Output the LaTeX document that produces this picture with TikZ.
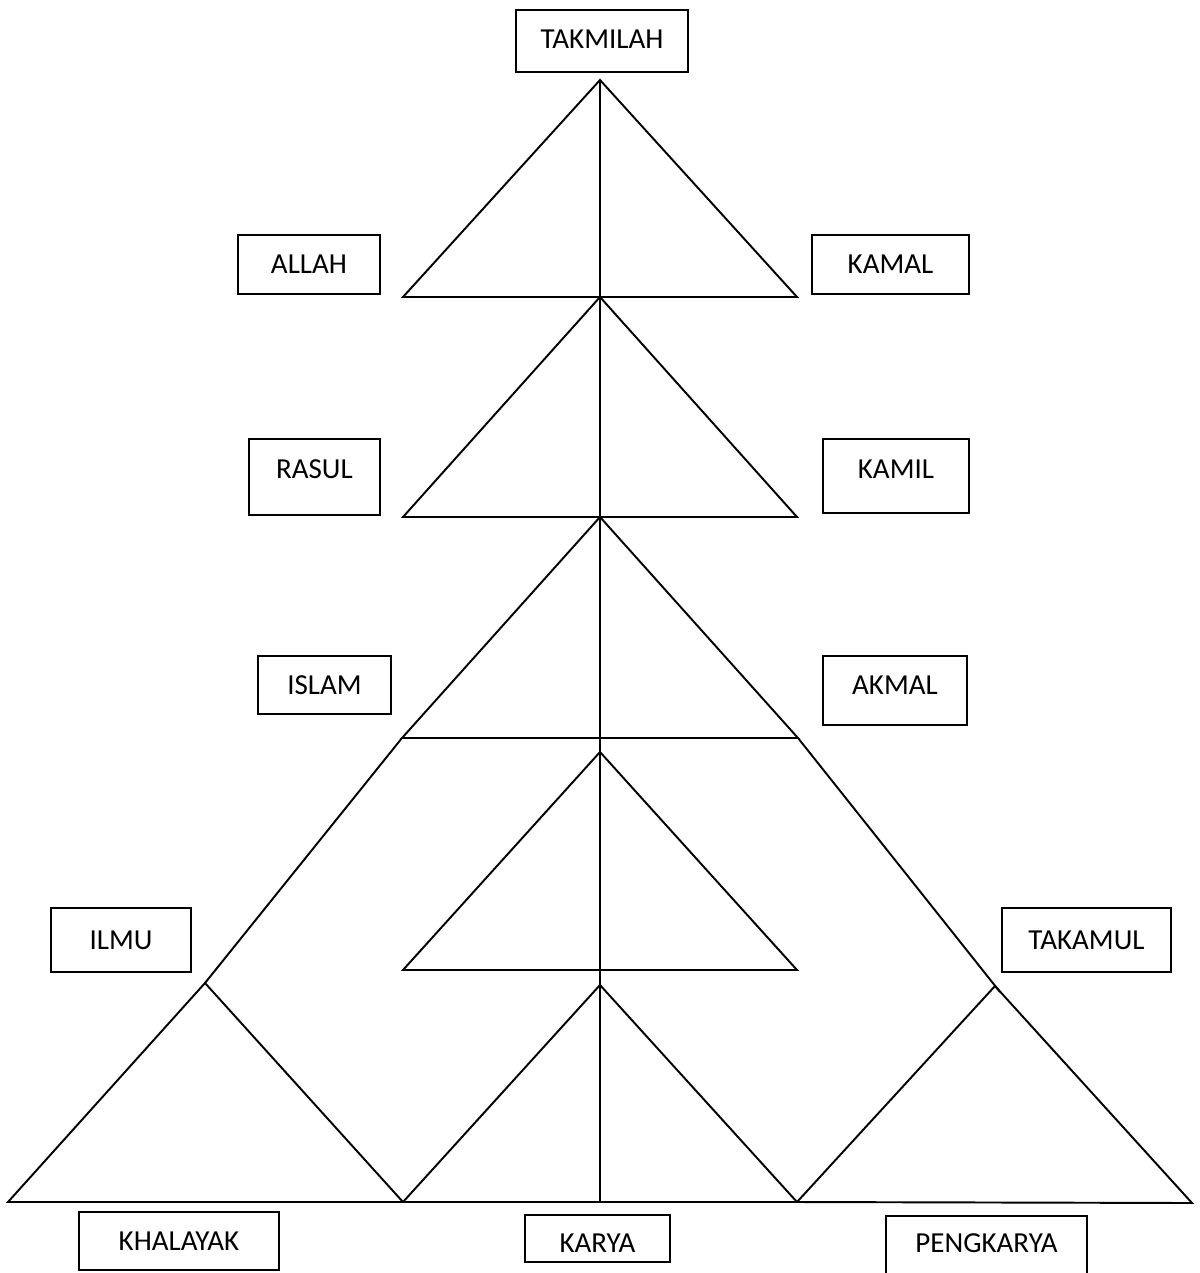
\documentclass[tikz,border=0pt]{standalone}
\usepackage{fontspec}
\setmainfont{Carlito}
\usetikzlibrary{positioning}

\begin{document}
\begin{tikzpicture}[x=0.2mm, y=-0.2mm, line width=1.1pt,
    box/.style={rectangle, draw, anchor=north west, inner xsep=0pt, inner ysep=0pt, font=\fontsize{16.5}{20}\selectfont}]

    \useasboundingbox (0,0) rectangle (1199,1273);
    \clip (0,0) rectangle (1199,1273);

    % labels
    \node[box, minimum width=34.4mm, text height=7.8mm, text depth=4.6mm] (takmilah) at (515,9) {TAKMILAH};
    \node[box, minimum width=28.4mm, text height=7.8mm, text depth=4mm] (allah) at (237,234) {ALLAH};
    \node[box, minimum width=31.4mm, text height=7.8mm, text depth=4mm] (kamal) at (811,234) {KAMAL};
    \node[box, minimum width=26.2mm, text height=8mm, text depth=7.2mm] (rasul) at (248,438) {RASUL};
    \node[box, minimum width=29.2mm, text height=8mm, text depth=6.8mm] (kamil) at (822,438) {KAMIL};
    \node[box, minimum width=26.6mm, text height=7.8mm, text depth=3.8mm] (islam) at (257,655) {ISLAM};
    \node[box, minimum width=28.8mm, text height=7.8mm, text depth=6mm] (akmal) at (822,655) {AKMAL};
    \node[box, minimum width=28mm, text height=8.4mm, text depth=4.4mm] (ilmu) at (50,907) {ILMU};
    \node[box, minimum width=33.8mm, text height=8.4mm, text depth=4.4mm] (takamul) at (1001,907) {TAKAMUL};
    \node[box, minimum width=40mm, text height=7.8mm, text depth=3.8mm] (khalayak) at (78,1211) {KHALAYAK};
    \node[box, minimum width=29mm, text height=7.6mm, text depth=1.8mm] (karya) at (524,1214) {KARYA};
    \node[box, minimum width=40.2mm, text height=7.4mm, text depth=8mm] (pengkarya) at (885,1215) {PENGKARYA};

    % corners of the triangles
    \coordinate (apex) at (600,80);
    \coordinate (b1l) at (403,297);
    \coordinate (b1m) at (600,297);
    \coordinate (b1r) at (797,297);
    \coordinate (b2l) at (403,517);
    \coordinate (b2m) at (600,517);
    \coordinate (b2r) at (797,517);
    \coordinate (b3l) at (402,738);
    \coordinate (b3r) at (798,738);
    \coordinate (inapex) at (600,752);
    \coordinate (inl) at (403,970);
    \coordinate (inr) at (797,970);
    \coordinate (lowl) at (205,983);
    \coordinate (lowm) at (600,985);
    \coordinate (lowr) at (995,986);
    \coordinate (endr) at (1000,992);
    \coordinate (f0) at (8,1202);
    \coordinate (f1) at (403,1202);
    \coordinate (f2) at (600,1202);
    \coordinate (f3) at (797,1202);
    \coordinate (f4) at (1192,1203);

    \draw (apex) -- (b1l) -- (b1r) -- cycle;
    \draw (b1m) -- (b2l) -- (b2r) -- cycle;
    \draw (b2m) -- (b3l) -- (b3r) -- cycle;
    \draw (inapex) -- (inl) -- (inr) -- cycle;
    \draw (b3l) -- (lowl);
    \draw (b3r) -- (endr);
    \draw (lowl) -- (f0) -- (f1) -- cycle;
    \draw (lowm) -- (f1) -- (f3) -- cycle;
    \draw (lowr) -- (f3) -- (f4) -- cycle;
    \draw (apex) -- (f2);
  \end{tikzpicture}
\end{document}
